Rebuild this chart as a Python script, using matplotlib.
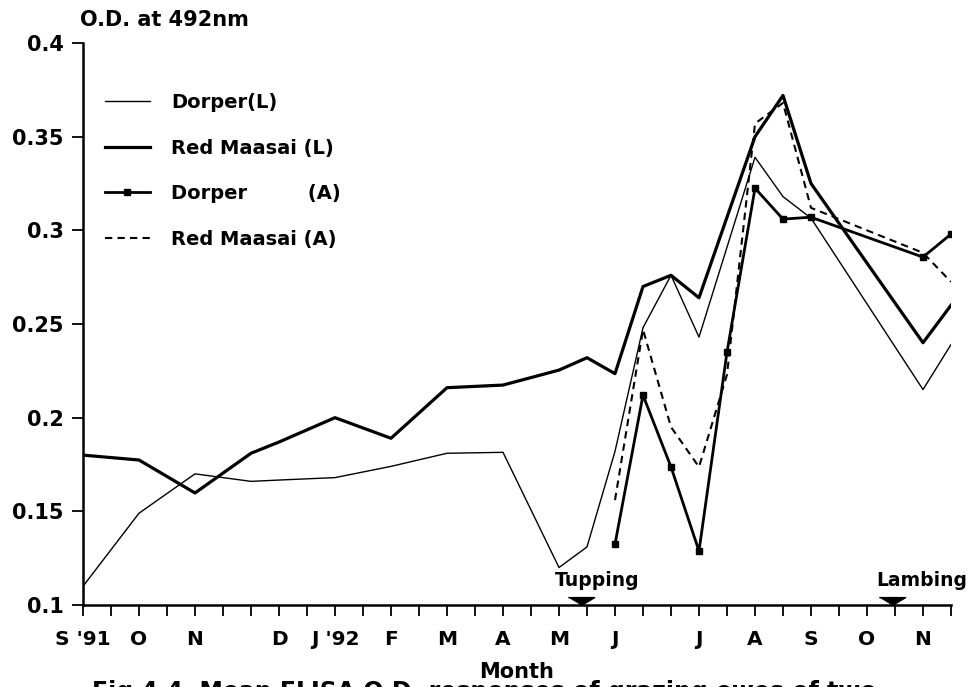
import numpy as np
import matplotlib
matplotlib.use('Agg')
import matplotlib.pyplot as plt

plt.rcParams['font.family'] = 'DejaVu Sans'
plt.rcParams['font.weight'] = 'bold'

# posiciones en el eje x (cada marca ~ media luna, 0 = S '91)
tick_pos = list(range(32))
tick_labels = {0: "S '91", 2: 'O', 4: 'N', 7: 'D', 9: "J '92", 11: 'F', 13: 'M',
               15: 'A', 17: 'M', 19: 'J', 22: 'J', 24: 'A', 26: 'S', 28: 'O', 30: 'N'}

# Dorper (L)
x_dl = [0, 2, 4, 6, 7, 9, 11, 13, 15, 17, 18, 19, 20, 21, 22, 24, 25, 26, 30, 31]
y_dl = [0.110, 0.149, 0.170, 0.166, 0.1667, 0.168, 0.174, 0.181, 0.1815, 0.120, 0.131,
        0.182, 0.248, 0.276, 0.243, 0.339, 0.318, 0.3065, 0.215, 0.239]

# Red Maasai (L)
x_rl = [0, 2, 4, 6, 7, 9, 11, 13, 15, 17, 18, 19, 20, 21, 22, 24, 25, 26, 30, 31]
y_rl = [0.180, 0.1774, 0.1598, 0.181, 0.187, 0.200, 0.189, 0.216, 0.2174, 0.2254, 0.232,
        0.2235, 0.270, 0.276, 0.264, 0.350, 0.372, 0.325, 0.240, 0.260]

# Dorper (A)
x_da = [19, 20, 21, 22, 23, 24, 25, 26, 30, 31]
y_da = [0.1325, 0.212, 0.1737, 0.1288, 0.235, 0.3225, 0.306, 0.307, 0.2857, 0.298]

# Red Maasai (A)
x_ra = [19, 20, 21, 22, 23, 24, 25, 26, 30, 31]
y_ra = [0.156, 0.247, 0.195, 0.1737, 0.223, 0.357, 0.368, 0.312, 0.288, 0.2725]

# eventos
event_x = [17.8, 28.9]
event_names = ['Tupping', 'Lambing']
event_dx = [16, 30]   # desplazamiento del texto en pixeles

fig = plt.figure(figsize=(9.79, 6.87), dpi=100)
ax = fig.add_axes([83/979, 1 - 605/687, (951-83)/979, (605-43)/687])

ax.plot(x_dl, y_dl, color='black', lw=1.0, label='Dorper(L)')
ax.plot(x_rl, y_rl, color='black', lw=2.3, label='Red Maasai (L)')
ax.plot(x_da, y_da, color='black', lw=2.0, marker='s', ms=4, label='Dorper         (A)')
ax.plot(x_ra, y_ra, color='black', lw=1.5, ls=(0, (3.5, 2.5)), label='Red Maasai (A)')

tri = [(-1, 0.6), (1, 0.6), (0, 0)]
for xe, name, dx in zip(event_x, event_names, event_dx):
    ax.plot([xe], [0.1], marker=tri, ms=19, color='black', clip_on=False, zorder=5)
    ax.annotate(name, (xe, 0.1), xytext=(dx, 25), textcoords='offset pixels',
                ha='center', va='center', fontsize=13.5, fontweight='bold',
                annotation_clip=False)

ax.set_xlim(0, 31)
ax.set_ylim(0.1, 0.4)
ax.set_xticks(tick_pos)
ax.set_xticklabels([tick_labels.get(t, '') for t in tick_pos], fontsize=14.5, fontweight='bold')
ax.set_yticks([0.1, 0.15, 0.2, 0.25, 0.3, 0.35, 0.4])
ax.set_yticklabels(['0.1', '0.15', '0.2', '0.25', '0.3', '0.35', '0.4'], fontsize=15, fontweight='bold')
ax.tick_params(axis='both', direction='out', length=8, width=1.3, color='black')
ax.tick_params(axis='x', pad=10)
ax.tick_params(axis='y', pad=6)
for s in ['top', 'right']:
    ax.spines[s].set_visible(False)
for s in ['left', 'bottom']:
    ax.spines[s].set_linewidth(1.8)

ax.set_xlabel('Month', fontsize=15, fontweight='bold', labelpad=9)
fig.text(80/979, 1 - 20/687, 'O.D. at 492nm', fontsize=15, fontweight='bold', va='center', ha='left')
fig.text(92/979, 1 - 680/687, 'Fig 4.4  Mean ELISA O.D. responses of grazing ewes of two',
         fontsize=17, fontweight='bold', va='top', ha='left')

ax.legend(loc='upper left', bbox_to_anchor=(105/979, 1 - 93/687), bbox_transform=fig.transFigure,
          frameon=False, handlelength=2.3, handletextpad=1.1, labelspacing=1.37,
          borderpad=0, borderaxespad=0, prop={'weight': 'bold', 'size': 14})

fig.savefig('out.png', dpi=100)
